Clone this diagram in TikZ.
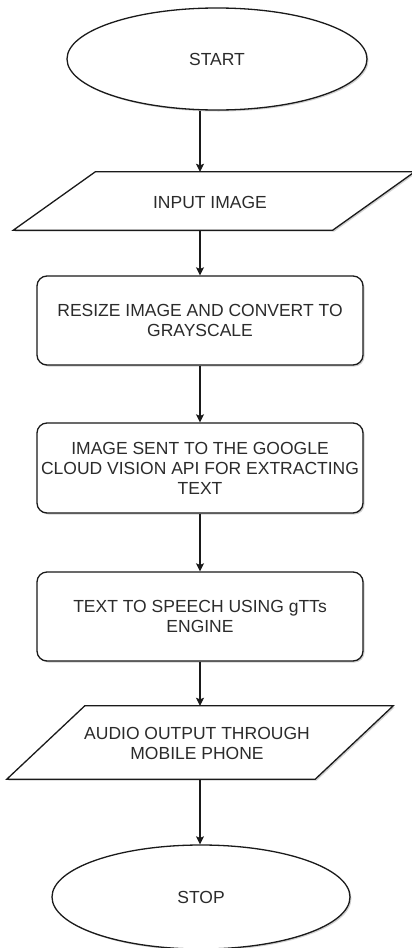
\documentclass[tikz,border=0pt]{standalone}
\usepackage{fontspec}
\setmainfont{Liberation Sans}
\usetikzlibrary{shapes.geometric,arrows.meta,calc,shadows}
\definecolor{inkline}{HTML}{1A1A1A}
\definecolor{inktext}{HTML}{2B2B2B}
\tikzset{
  soft/.style={drop shadow={shadow xshift=1.5pt,shadow yshift=-1.5pt,opacity=0.18,fill=black}},
  outline/.style={draw=inkline,line width=1.3pt,fill=white},
  label/.style={font=\fontsize{17.5}{20}\selectfont,text=inktext,align=center,inner sep=0pt},
  terminal/.style={ellipse,outline,soft,label,inner sep=0pt},
  process/.style={rectangle,rounded corners=10pt,outline,soft,label,minimum width=326pt},
  iobox/.style={rectangle,draw=none,label},
  arr/.style={draw=inkline,line width=1.2pt,-{Stealth[length=8pt,width=8pt,inset=1.5pt]}}
}
\begin{document}
\begin{tikzpicture}[x=1pt,y=-1pt]
\useasboundingbox[fill=white] (0,0) rectangle (412,948);
\coordinate (ax) at (200,0);

% terminals
\node[terminal,minimum width=300pt,minimum height=102pt] (start) at (217,59) {START};
\node[terminal,minimum width=298pt,minimum height=104pt] (stop) at (201,897) {STOP};

% input / output parallelograms: frames for the text, slanted outlines drawn below
\node[iobox,minimum width=319pt,minimum height=58pt] (in) at (214,201) {};
\path[outline,soft] ($(in.north west)+(41,0)$) -- ($(in.north east)+(41,0)$)
  -- ($(in.south east)+(-41,0)$) -- ($(in.south west)+(-41,0)$) -- cycle;
\node[label] at (210,202) {INPUT IMAGE};

\node[iobox,minimum width=308pt,minimum height=73pt] (out) at (200,742.5) {};
\path[outline,soft] ($(out.north west)+(39,0)$) -- ($(out.north east)+(39,0)$)
  -- ($(out.south east)+(-39,0)$) -- ($(out.south west)+(-39,0)$) -- cycle;
\node[label] at (197,743) {AUDIO OUTPUT THROUGH\\MOBILE PHONE};

% processing steps
\node[process,minimum height=89pt] (resize) at (200,320.5)
  {RESIZE IMAGE AND CONVERT TO\\GRAYSCALE};
\node[process,minimum height=90pt] (vision) at (200,468)
  {IMAGE SENT TO THE GOOGLE\\CLOUD VISION API FOR EXTRACTING\\TEXT};
\node[process,minimum height=89pt] (tts) at (200,616.5)
  {TEXT TO SPEECH USING gTTs\\ENGINE};

% flow
\draw[arr] (ax |- start.south) -- (ax |- in.north);
\draw[arr] (ax |- in.south) -- (resize.north);
\draw[arr] (resize.south) -- (vision.north);
\draw[arr] (vision.south) -- (tts.north);
\draw[arr] (tts.south) -- (ax |- out.north);
\draw[arr] (ax |- out.south) -- (ax |- stop.north);
\end{tikzpicture}
\end{document}
